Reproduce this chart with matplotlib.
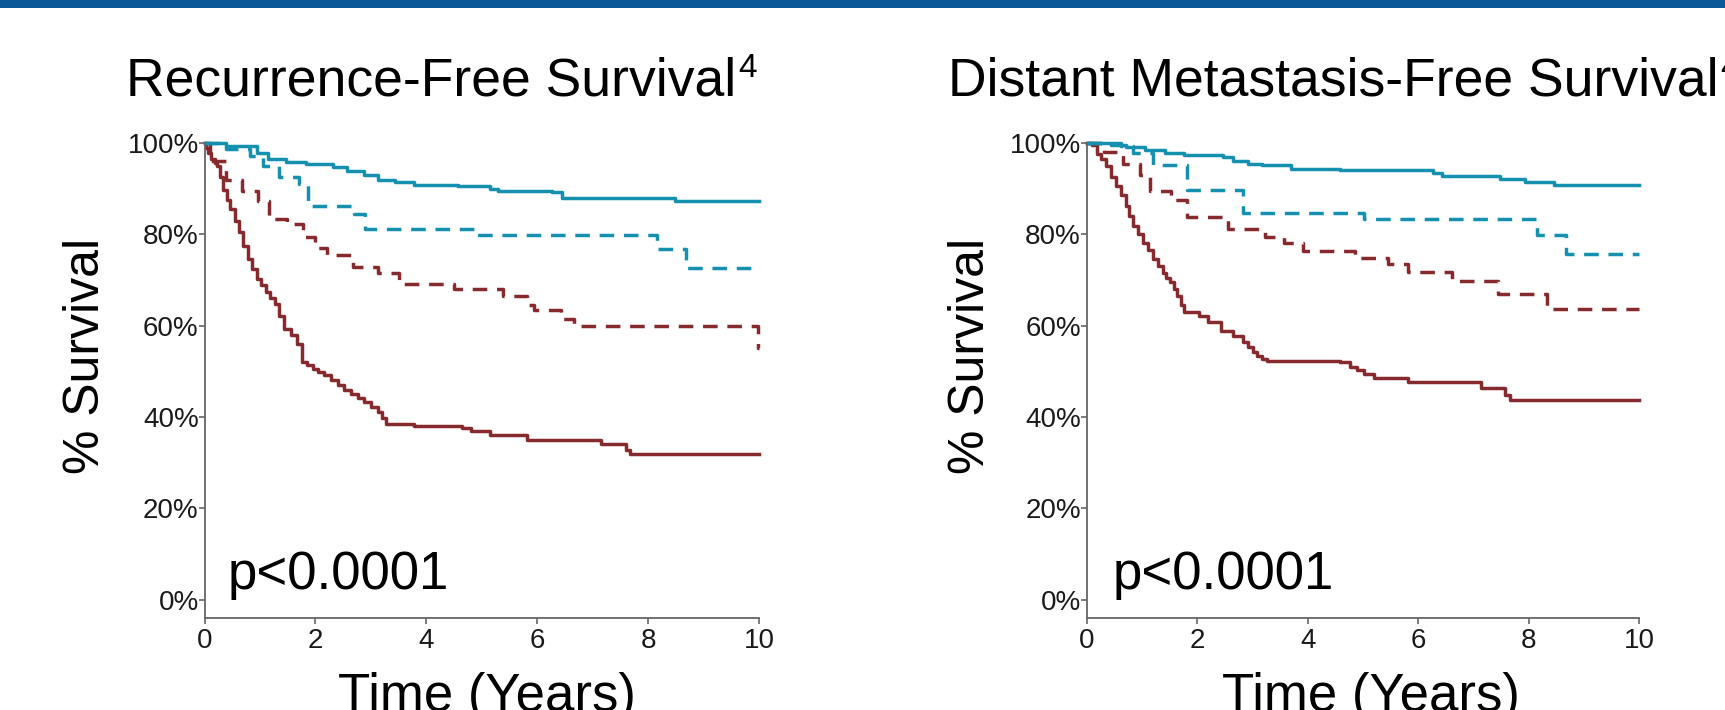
import matplotlib
matplotlib.use("Agg")
import matplotlib.pyplot as plt
from matplotlib.patches import Rectangle

plt.rcParams['font.family'] = ['Liberation Sans', 'DejaVu Sans']

# ---------------- data ----------------
titles = ['Recurrence-Free Survival', 'Distant Metastasis-Free Survival']
title_sup = '4'
y_label = '% Survival'
x_label = 'Time (Years)'
p_text = 'p<0.0001'
x_ticks = [0, 2, 4, 6, 8, 10]
y_ticks = [0, 20, 40, 60, 80, 100]
y_ticklabels = ['0%', '20%', '40%', '60%', '80%', '100%']

# Recurrence-free survival (left)
rfs_blue_solid_t = [0, 0.38, 0.94, 1.15, 1.47, 1.83, 2.31, 2.56, 2.88, 3.12, 3.44, 3.77,
                    4.57, 5.14, 5.30, 6.27, 6.44, 8.49, 10]
rfs_blue_solid_s = [100, 99.3, 97.8, 96.5, 95.8, 95.3, 94.8, 93.8, 92.9, 92.0, 91.5, 90.8,
                    90.6, 90.0, 89.4, 89.2, 88.0, 87.4, 87.4]
rfs_blue_dash_t = [0, 0.38, 0.82, 1.06, 1.35, 1.71, 1.87, 2.69, 2.90, 4.90, 8.16, 8.69, 10]
rfs_blue_dash_s = [100, 98.6, 97.2, 95.0, 92.6, 91.0, 86.3, 84.5, 81.2, 79.8, 76.7, 72.6, 72.6]
rfs_red_dash_t = [0, 0.10, 0.38, 0.68, 0.97, 1.17, 1.49, 1.77, 1.99, 2.20, 2.68, 3.12, 3.50,
                  4.49, 5.38, 5.82, 5.95, 6.43, 6.67, 9.98, 10]
rfs_red_dash_s = [100, 96.0, 92.0, 89.5, 87.3, 83.3, 82.2, 79.3, 77.0, 75.5, 72.9, 71.6, 69.2,
                  68.0, 66.5, 64.5, 63.5, 61.5, 59.9, 55.0, 55.0]
rfs_red_solid_t = [0, 0.03, 0.06, 0.12, 0.18, 0.22, 0.28, 0.34, 0.40, 0.46, 0.54, 0.62, 0.70,
                   0.78, 0.86, 0.94, 1.02, 1.10, 1.18, 1.27, 1.35, 1.43, 1.55, 1.67, 1.75,
                   1.85, 1.95, 2.05, 2.15, 2.28, 2.40, 2.52, 2.64, 2.76, 2.88, 3.00, 3.12,
                   3.20, 3.28, 3.77, 4.65, 4.81, 5.14, 5.82, 7.15, 7.60, 7.68, 10]
rfs_red_solid_s = [100, 99.0, 97.8, 96.6, 95.6, 94.9, 92.5, 89.8, 87.5, 85.5, 83.0, 80.4, 77.5,
                   74.5, 72.5, 70.2, 68.8, 67.3, 66.0, 64.7, 62.0, 59.3, 58.0, 56.0, 52.0,
                   51.3, 50.5, 49.8, 49.1, 48.0, 46.9, 46.0, 45.1, 44.2, 43.3, 42.2, 41.1,
                   39.8, 38.5, 38.0, 37.5, 36.9, 36.0, 34.9, 34.0, 32.7, 31.8, 31.8]

# Distant metastasis-free survival (right)
dmfs_blue_solid_t = [0, 0.44, 0.70, 1.06, 1.41, 1.76, 2.47, 2.64, 2.91, 3.17, 3.70, 4.58,
                     6.26, 6.43, 7.49, 7.93, 8.46, 10]
dmfs_blue_solid_s = [100, 99.6, 99.1, 98.5, 97.8, 97.3, 96.9, 96.1, 95.5, 95.1, 94.4, 94.0,
                     93.5, 92.7, 92.1, 91.4, 90.9, 90.9]
dmfs_blue_dash_t = [0, 0.62, 0.84, 1.19, 1.81, 2.82, 5.02, 8.15, 8.68, 10]
dmfs_blue_dash_s = [100, 99.3, 97.8, 95.2, 89.8, 84.7, 83.3, 79.8, 75.6, 75.6]
dmfs_red_dash_t = [0, 0.31, 0.66, 0.97, 1.15, 1.52, 1.81, 2.56, 3.22, 3.57, 3.92, 4.85, 5.46,
                   5.81, 6.61, 7.44, 8.33, 10]
dmfs_red_dash_s = [100, 98.0, 95.5, 93.0, 89.5, 87.5, 83.8, 81.2, 79.5, 78.0, 76.4, 74.9, 73.5,
                   71.8, 69.7, 66.9, 63.6, 63.6]
dmfs_red_solid_t = [0, 0.10, 0.18, 0.26, 0.35, 0.44, 0.53, 0.62, 0.70, 0.77, 0.84, 0.92, 1.01,
                    1.10, 1.19, 1.28, 1.37, 1.44, 1.50, 1.57, 1.63, 1.70, 1.76, 2.03, 2.20,
                    2.42, 2.64, 2.82, 2.91, 3.00, 3.09, 3.17, 3.26, 4.58, 4.76, 4.89, 5.02,
                    5.20, 5.81, 7.14, 7.58, 7.67, 10]
dmfs_red_solid_s = [100, 99.5, 97.5, 96.5, 94.9, 92.5, 90.5, 88.5, 86.2, 84.0, 81.8, 80.0, 78.2,
                    76.5, 74.5, 73.0, 71.6, 70.5, 69.5, 68.0, 66.5, 64.5, 62.9, 62.2, 60.7,
                    58.9, 57.8, 56.4, 55.3, 54.2, 53.4, 52.7, 52.2, 52.0, 50.9, 50.2, 49.5,
                    48.5, 47.6, 46.4, 44.7, 43.8, 43.8]

BLUE = '#1591AF'
RED = '#862A2E'
BAND = '#0B5898'

panels = [
    dict(curves=[(rfs_red_solid_t, rfs_red_solid_s, RED, '-'),
                 (rfs_red_dash_t, rfs_red_dash_s, RED, '--'),
                 (rfs_blue_dash_t, rfs_blue_dash_s, BLUE, '--'),
                 (rfs_blue_solid_t, rfs_blue_solid_s, BLUE, '-')],
         rect=[204.6, 759.0], title_x=126, ylab_x=86, xlab_x=487, p_x=0.42),
    dict(curves=[(dmfs_red_solid_t, dmfs_red_solid_s, RED, '-'),
                 (dmfs_red_dash_t, dmfs_red_dash_s, RED, '--'),
                 (dmfs_blue_dash_t, dmfs_blue_dash_s, BLUE, '--'),
                 (dmfs_blue_solid_t, dmfs_blue_solid_s, BLUE, '-')],
         rect=[1086.9, 1639.0], title_x=948, ylab_x=971, xlab_x=1371, p_x=0.47),
]

W, H = 1725, 710
fig = plt.figure(figsize=(W / 100, H / 100), dpi=100)
fig.add_artist(Rectangle((0, 1 - 8 / H), 1, 8 / H, transform=fig.transFigure,
                         color=BAND, lw=0))

ax_top_px, ax_bot_px = 143.0, 618.0
for i, pan in enumerate(panels):
    x0, x1 = pan['rect']
    ax = fig.add_axes([x0 / W, 1 - ax_bot_px / H, (x1 - x0) / W, (ax_bot_px - ax_top_px) / H])
    for t, s, c, ls in pan['curves']:
        if ls == '--':
            ax.step(t, s, where='post', color=c, lw=2.5, linestyle=(0, (4.2, 2.8)),
                    clip_on=False, dash_capstyle='butt')
        else:
            ax.step(t, s, where='post', color=c, lw=2.5, clip_on=False)
    ax.set_xlim(0, 10)
    ax.set_ylim(-4.05, 100)
    ax.set_xticks(x_ticks)
    ax.set_yticks(y_ticks)
    ax.set_yticklabels(y_ticklabels)
    for side in ['top', 'right']:
        ax.spines[side].set_visible(False)
    for side in ['left', 'bottom']:
        ax.spines[side].set_color('#666666')
        ax.spines[side].set_linewidth(1.3)
    ax.tick_params(axis='both', colors='#666666', length=4, width=1.2, labelsize=20,
                   labelcolor='#1a1a1a')
    ax.tick_params(axis='y', pad=0.3)
    ax.tick_params(axis='x', pad=3)
    ax.patch.set_alpha(0)
    ax.text(pan['p_x'], 2.4, p_text, fontsize=38, color='black', va='baseline', ha='left')

    base_y = 1 - 96 / H
    ttl = fig.text(pan['title_x'] / W, base_y, titles[i], fontsize=38.5, ha='left',
                   va='baseline', color='black')
    # superscript: right after the title, baseline ~19 px above the title baseline
    ax.annotate(title_sup, xy=(1.0, base_y), xycoords=(ttl, 'figure fraction'),
                xytext=(1.5, 13.5), textcoords='offset points', fontsize=24,
                ha='left', va='baseline', color='black', annotation_clip=False)
    fig.text(pan['ylab_x'] / W, 1 - 356 / H, y_label, fontsize=36, rotation=90,
             ha='center', va='center', color='black')
    fig.text(pan['xlab_x'] / W, 1 - 711 / H, x_label, fontsize=38, ha='center',
             va='baseline', color='black')

fig.savefig('out.png', dpi=100)
